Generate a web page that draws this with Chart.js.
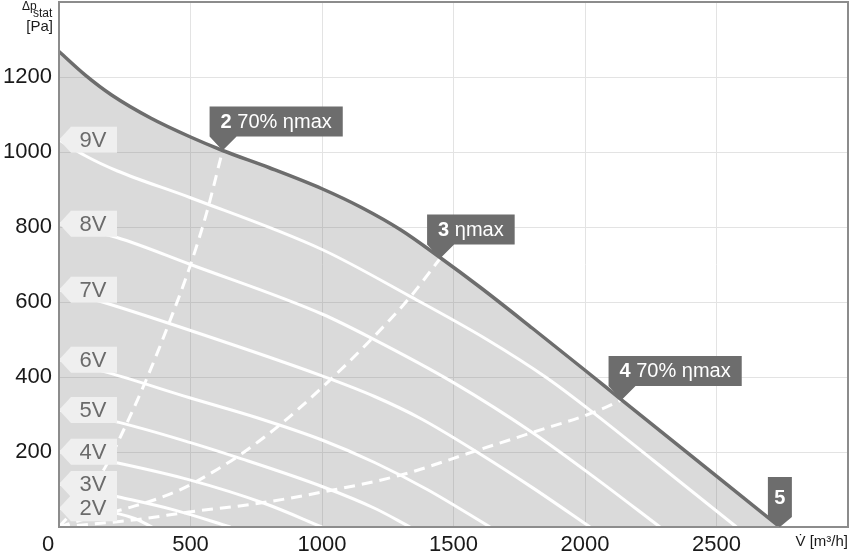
<!DOCTYPE html>
<html>
<head>
<meta charset="utf-8">
<script src="https://cdn.jsdelivr.net/npm/chart.js@4.4.0/dist/chart.umd.min.js"></script>
<style>
  html, body { margin: 0; padding: 0; background: #fff; }
  #wrap { width: 850px; height: 554px; position: relative; }
</style>
</head>
<body>
<div id="wrap"><canvas id="fanChart"></canvas></div>
<script>
// axis ranges / ticks
const xMax = 3000;
const yMax = 1400;
const xStep = 500;
const yStep = 200;

// max fan curve (upper envelope), [m3/h, Pa]
const maxCurve = [[0,1268],[100,1205],[200,1152],[350,1090],[500,1040],[622,1004],[800,958],[1000,902],[1150,852],[1300,792],[1450,718],[1600,640],[1800,530],[2000,418],[2139,339],[2741,0]];

// curves per control voltage
const speedNames = ['9V', '8V', '7V', '6V', '5V', '4V', '3V', '2V'];
const curve9V = [[0,1033],[100,990],[220,950],[500,878],[1000,740],[1335,615],[1627,500],[1854,398],[2031,305],[2259,178],[2576,0]];
const curve8V = [[0,809],[220,772],[500,700],[1000,568],[1184,505],[1500,385],[1804,250],[2031,135],[2285,0]];
const curve7V = [[0,633],[165,600],[500,524],[1000,403],[1200,348],[1373,290],[1589,200],[1800,105],[2019,0]];
const curve6V = [[0,446],[190,411],[500,344],[750,292],[1000,232],[1200,172],[1400,100],[1639,0]];
const curve5V = [[0,312],[228,279],[500,225],[671,187],[1000,108],[1200,50],[1335,0]];
const curve4V = [[0,201],[228,170],[500,125],[785,62],[1000,0]];
const curve3V = [[0,115],[228,80],[440,45],[652,0]];
const curve2V = [[0,50],[150,43],[228,35],[290,22],[354,0]];

// efficiency lines (dashed)
const eff70Left = [[0,0],[90,72],[177,161],[240,250],[329,388],[424,554],[498,695],[561,837],[622,1004]];
const effMax = [[0,0],[100,22],[283,55],[460,99],[612,158],[696,196],[848,277],[1020,385],[1184,498],[1335,613],[1449,716]];
const eff70Right = [[0,0],[300,20],[494,40],[747,62],[1000,93],[1297,138],[1589,204],[1804,253],[2038,307],[2139,339]];

// operating point markers
const markerNums = ['2', '3', '4', '5'];
const markerTexts = [' 70% ηmax', ' ηmax', ' 70% ηmax', ''];
const markerX = [622, 1449, 2139, 2741];
const markerY = [1004, 716, 339, 0];

const speedCurves = [curve9V, curve8V, curve7V, curve6V, curve5V, curve4V, curve3V, curve2V];
const FONT = '"Liberation Sans", Arial, sans-serif';

function toXY(arr) {
    return arr.map(p => ({ x: p[0], y: p[1] }));
}

const datasets = [];
datasets.push({
    data: toXY(maxCurve),
    borderColor: '#6d6d6d',
    borderWidth: 3.5,
    backgroundColor: 'rgba(120,120,120,0.27)',
    fill: 'origin'
});
speedCurves.forEach(c => {
    datasets.push({ data: toXY(c), borderColor: '#ffffff', borderWidth: 3, fill: false });
});
[eff70Left, effMax, eff70Right].forEach(c => {
    datasets.push({ data: toXY(c), borderColor: '#ffffff', borderWidth: 3, borderDash: [11, 7], fill: false });
});

const overlay = {
    id: 'overlay',
    afterDatasetsDraw(chart) {
        const { ctx, chartArea: a, scales: { x, y } } = chart;
        ctx.save();

        // voltage tags on the left edge
        ctx.font = '22px ' + FONT;
        ctx.textAlign = 'center';
        ctx.textBaseline = 'middle';
        speedCurves.forEach((c, i) => {
            const tx = x.getPixelForValue(c[0][0]);
            const ty = y.getPixelForValue(c[0][1]);
            ctx.fillStyle = '#efefef';
            ctx.beginPath();
            ctx.moveTo(tx, ty);
            ctx.lineTo(tx + 12, ty - 13);
            ctx.lineTo(tx + 58, ty - 13);
            ctx.lineTo(tx + 58, ty + 13);
            ctx.lineTo(tx + 12, ty + 13);
            ctx.closePath();
            ctx.fill();
            ctx.fillStyle = '#6b6b6b';
            ctx.fillText(speedNames[i], tx + 34, ty + 1);
        });

        // frame
        ctx.strokeStyle = '#8c8c8c';
        ctx.lineWidth = 2;
        ctx.strokeRect(a.left, a.top, a.right - a.left, a.bottom - a.top);

        // operating point markers
        markerX.forEach((mx, i) => {
            const px = x.getPixelForValue(mx);
            const py = y.getPixelForValue(markerY[i]);
            ctx.fillStyle = '#6d6d6d';
            ctx.textBaseline = 'middle';
            if (markerTexts[i]) {
                ctx.font = 'bold 20px ' + FONT;
                const w1 = ctx.measureText(markerNums[i]).width;
                ctx.font = '20px ' + FONT;
                const w2 = ctx.measureText(markerTexts[i]).width;
                const w = w1 + w2 + 22, h = 30;
                const bl = px - 13, bb = py - 14, bt = bb - h;
                ctx.beginPath();
                ctx.moveTo(bl, bt);
                ctx.lineTo(bl + w, bt);
                ctx.lineTo(bl + w, bb);
                ctx.lineTo(bl + 27, bb);
                ctx.lineTo(px, py);
                ctx.lineTo(bl, bb);
                ctx.closePath();
                ctx.fill();
                ctx.fillStyle = '#ffffff';
                ctx.textAlign = 'left';
                ctx.font = 'bold 20px ' + FONT;
                ctx.fillText(markerNums[i], bl + 11, bt + h / 2 + 1);
                ctx.font = '20px ' + FONT;
                ctx.fillText(markerTexts[i], bl + 11 + w1, bt + h / 2 + 1);
            } else {
                const w = 24, h = 40;
                const bl = px - 12, bb = py - 10, bt = bb - h;
                ctx.beginPath();
                ctx.moveTo(bl, bt);
                ctx.lineTo(bl + w, bt);
                ctx.lineTo(bl + w, bb);
                ctx.lineTo(px, py);
                ctx.lineTo(bl, bb);
                ctx.closePath();
                ctx.fill();
                ctx.fillStyle = '#ffffff';
                ctx.textAlign = 'center';
                ctx.font = 'bold 20px ' + FONT;
                ctx.fillText(markerNums[i], px, bt + h / 2 + 1);
            }
        });

        // axis titles and shared origin label
        ctx.fillStyle = '#1a1a1a';
        ctx.textBaseline = 'alphabetic';
        ctx.textAlign = 'left';
        ctx.font = '12px ' + FONT;
        ctx.fillText('Δp', 22, 10);
        ctx.fillText('stat', 33, 17);
        ctx.textAlign = 'right';
        ctx.font = '15px ' + FONT;
        ctx.fillText('[Pa]', 53, 31);
        ctx.fillText('V\u0307 [m\u00b3/h]', 848, 546);

        ctx.font = '22px ' + FONT;
        ctx.textAlign = 'center';
        ctx.textBaseline = 'middle';
        ctx.fillText('0', 48, x.top + 5 + 13.2);

        ctx.restore();
    }
};

const ctx = document.getElementById('fanChart').getContext('2d');
new Chart(ctx, {
    type: 'line',
    data: { datasets: datasets },
    options: {
        responsive: true,
        maintainAspectRatio: false,
        animation: false,
        layout: { padding: { top: 2, right: 2, left: 0, bottom: 0 } },
        elements: {
            point: { radius: 0 },
            line: { cubicInterpolationMode: 'monotone' }
        },
        scales: {
            x: {
                type: 'linear',
                min: 0,
                max: xMax,
                afterFit: function(scale) {
                    scale.height = 27;
                    scale.paddingLeft = 0;
                    scale.paddingRight = 0;
                },
                border: { display: false },
                grid: { color: '#e3e3e3', drawTicks: false },
                ticks: {
                    stepSize: xStep,
                    padding: 5,
                    color: '#1a1a1a',
                    font: { family: FONT, size: 22 },
                    callback: function(value) {
                        return (value === 0 || value === xMax) ? null : value;
                    }
                }
            },
            y: {
                type: 'linear',
                min: 0,
                max: yMax,
                afterFit: function(scale) {
                    scale.width = 59;
                    scale.paddingTop = 0;
                    scale.paddingBottom = 0;
                },
                border: { display: false },
                grid: { color: '#e3e3e3', drawTicks: false },
                ticks: {
                    stepSize: yStep,
                    padding: 7,
                    color: '#1a1a1a',
                    font: { family: FONT, size: 22 },
                    callback: function(value) {
                        return (value === 0 || value === yMax) ? null : value;
                    }
                }
            }
        },
        plugins: {
            legend: { display: false },
            tooltip: { enabled: false },
            filler: { drawTime: 'beforeDatasetsDraw' }
        }
    },
    plugins: [overlay]
});
</script>
</body>
</html>
